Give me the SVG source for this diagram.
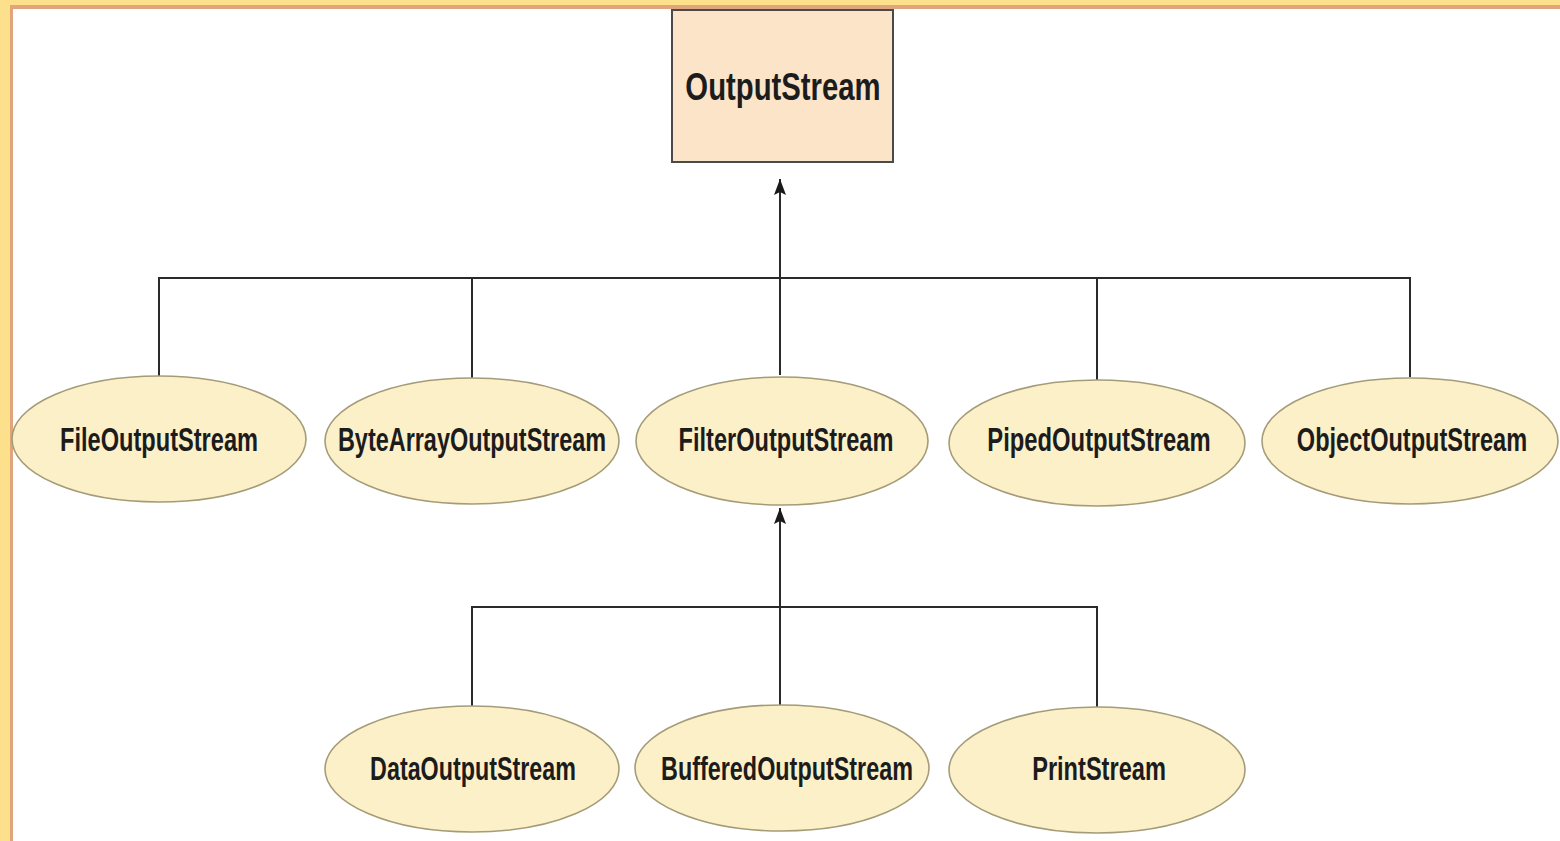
<svg xmlns="http://www.w3.org/2000/svg" width="1560" height="841" viewBox="0 0 1560 841">
  <defs>
    <!-- arrowhead drawn along +x so orient="auto" points it along the line -->
    <marker id="arrow" viewBox="0 0 16 12" refX="16" refY="6" markerWidth="16" markerHeight="12" markerUnits="userSpaceOnUse" orient="auto">
      <path d="M16,6 L0,0 L3,6 L0,12 Z" fill="#1a1a1a"/>
    </marker>
    <style>
      .frame-band { fill: #fde08c; }
      .frame-line { fill: #e2a47a; }
      .box { fill: #fbe4c8; stroke: #4a4a4a; stroke-width: 2; }
      .oval { fill: #fcf0c8; stroke: #a49c78; stroke-width: 1.6; }
      .label { font-family: "Liberation Sans", Arial, sans-serif; font-weight: bold; font-size: 34px; fill: #1c1c1c; text-anchor: middle; }
      .conn { fill: none; stroke: #2a2a2a; stroke-width: 2; }
    </style>
  </defs>

  <!-- page background and frame -->
  <rect x="0" y="0" width="1560" height="841" fill="#ffffff"/>
  <rect class="frame-band" x="0" y="0" width="1560" height="5"/>
  <rect class="frame-line" x="10" y="5" width="1550" height="4"/>
  <rect class="frame-band" x="0" y="0" width="10" height="841"/>
  <rect class="frame-line" x="10" y="5" width="3" height="836"/>

  <!-- connectors -->
  <g id="connectors">
    <path class="conn" d="M780,375 L780,179" marker-end="url(#arrow)"/>
    <path class="conn" d="M159,376 L159,278 L1410,278 L1410,377"/>
    <path class="conn" d="M472,378 L472,278"/>
    <path class="conn" d="M1097,380 L1097,278"/>
    <path class="conn" d="M780,705 L780,508" marker-end="url(#arrow)"/>
    <path class="conn" d="M472,706 L472,607 L1097,607 L1097,707"/>
  </g>

  <!-- labels use a horizontally condensed bold face (scale 0.7) -->
  <g id="OutputStream">
    <rect class="box" x="672" y="10" width="221" height="152"/>
    <text class="label" transform="translate(783,100) scale(0.7,1)" style="font-size:38px" textLength="279" lengthAdjust="spacingAndGlyphs">OutputStream</text>
  </g>

  <g id="FileOutputStream">
    <ellipse class="oval" cx="159" cy="439" rx="147" ry="63"/>
    <text class="label" transform="translate(159,451) scale(0.7,1)" textLength="283" lengthAdjust="spacingAndGlyphs">FileOutputStream</text>
  </g>

  <g id="ByteArrayOutputStream">
    <ellipse class="oval" cx="472" cy="441" rx="147" ry="63"/>
    <text class="label" transform="translate(472,451) scale(0.7,1)" textLength="383" lengthAdjust="spacingAndGlyphs">ByteArrayOutputStream</text>
  </g>

  <g id="FilterOutputStream">
    <ellipse class="oval" cx="782" cy="441" rx="146" ry="64"/>
    <text class="label" transform="translate(786,451) scale(0.7,1)" textLength="307" lengthAdjust="spacingAndGlyphs">FilterOutputStream</text>
  </g>

  <g id="PipedOutputStream">
    <ellipse class="oval" cx="1097" cy="443" rx="148" ry="63"/>
    <text class="label" transform="translate(1099,451) scale(0.7,1)" textLength="319" lengthAdjust="spacingAndGlyphs">PipedOutputStream</text>
  </g>

  <g id="ObjectOutputStream">
    <ellipse class="oval" cx="1410" cy="441" rx="148" ry="63"/>
    <text class="label" transform="translate(1412,451) scale(0.7,1)" textLength="329" lengthAdjust="spacingAndGlyphs">ObjectOutputStream</text>
  </g>

  <g id="DataOutputStream">
    <ellipse class="oval" cx="472" cy="769" rx="147" ry="63"/>
    <text class="label" transform="translate(473,780) scale(0.7,1)" textLength="294" lengthAdjust="spacingAndGlyphs">DataOutputStream</text>
  </g>

  <g id="BufferedOutputStream">
    <ellipse class="oval" cx="782" cy="768" rx="147" ry="63"/>
    <text class="label" transform="translate(787,780) scale(0.7,1)" textLength="360" lengthAdjust="spacingAndGlyphs">BufferedOutputStream</text>
  </g>

  <g id="PrintStream">
    <ellipse class="oval" cx="1097" cy="770" rx="148" ry="63"/>
    <text class="label" transform="translate(1099,780) scale(0.7,1)" textLength="191" lengthAdjust="spacingAndGlyphs">PrintStream</text>
  </g>
</svg>
